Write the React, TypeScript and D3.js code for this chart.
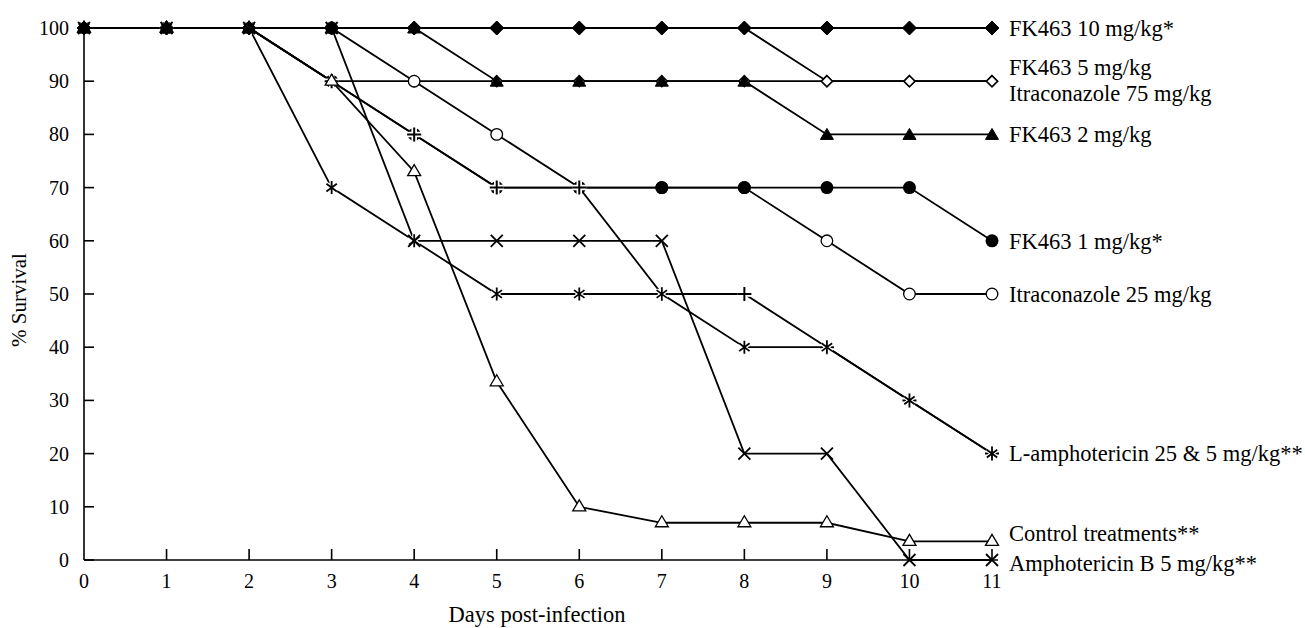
import React from "react";
import * as d3 from "d3";

const days = [0, 1, 2, 3, 4, 5, 6, 7, 8, 9, 10, 11];
const yTicks = [0, 10, 20, 30, 40, 50, 60, 70, 80, 90, 100];

const fk463_10 = [100, 100, 100, 100, 100, 100, 100, 100, 100, 100, 100, 100];
const fk463_5 = [100, 100, 100, 100, 100, 100, 100, 100, 100, 90, 90, 90];
const itra75 = [100, 100, 100, 90, 90, 90, 90, 90, 90, 90, 90, 90];
const fk463_2 = [100, 100, 100, 100, 100, 90, 90, 90, 90, 80, 80, 80];
const fk463_1 = [100, 100, 100, 90, 80, 70, 70, 70, 70, 70, 70, 60];
const itra25 = [100, 100, 100, 100, 90, 80, 70, 70, 70, 60, 50, 50];
const lamph25 = [100, 100, 100, 90, 80, 70, 70, 50, 50, 40, 30, 20];
const lamph5 = [100, 100, 100, 70, 60, 50, 50, 50, 40, 40, 30, 20];
const control = [100, 100, 100, 90, 73, 33.5, 10, 7, 7, 7, 3.5, 3.5];
const amphoB = [100, 100, 100, 100, 60, 60, 60, 60, 20, 20, 0, 0];

type Sym = "diamondFilled" | "diamondOpen" | "triFilled" | "triOpen" | "circleFilled" | "circleOpen" | "plus" | "star" | "cross";

const series: { name: string; values: number[]; sym: Sym }[] = [
  { name: "fk463_5", values: fk463_5, sym: "diamondOpen" },
  { name: "itra75", values: itra75, sym: "diamondOpen" },
  { name: "itra25", values: itra25, sym: "circleOpen" },
  { name: "fk463_1", values: fk463_1, sym: "circleFilled" },
  { name: "lamph25", values: lamph25, sym: "plus" },
  { name: "lamph5", values: lamph5, sym: "star" },
  { name: "amphoB", values: amphoB, sym: "cross" },
  { name: "control", values: control, sym: "triOpen" },
  { name: "fk463_10", values: fk463_10, sym: "diamondFilled" },
  { name: "fk463_2", values: fk463_2, sym: "triFilled" },
];

const labels: { lines: string[]; value: number; dy: number[] }[] = [
  { lines: ["FK463 10 mg/kg*"], value: 100, dy: [0] },
  { lines: ["FK463 5 mg/kg", "Itraconazole 75 mg/kg"], value: 90, dy: [-14, 12] },
  { lines: ["FK463 2 mg/kg"], value: 80, dy: [0] },
  { lines: ["FK463 1 mg/kg*"], value: 60, dy: [0] },
  { lines: ["Itraconazole 25 mg/kg"], value: 50, dy: [0] },
  { lines: ["L-amphotericin 25 & 5 mg/kg**"], value: 20, dy: [0] },
  { lines: ["Control treatments**"], value: 3.5, dy: [-8] },
  { lines: ["Amphotericin B 5 mg/kg**"], value: 0, dy: [3] },
];

const FONT = "'Liberation Serif', 'Times New Roman', serif";

function Marker({ sym, cx, cy }: { sym: Sym; cx: number; cy: number }) {
  const sw = 1.6;
  switch (sym) {
    case "diamondFilled": {
      const r = 7;
      return <path d={`M${cx},${cy - r}L${cx + r},${cy}L${cx},${cy + r}L${cx - r},${cy}Z`} fill="#000" stroke="#000" strokeWidth={1} />;
    }
    case "diamondOpen": {
      const r = 5.5;
      return <path d={`M${cx},${cy - r}L${cx + r},${cy}L${cx},${cy + r}L${cx - r},${cy}Z`} fill="#fff" stroke="#000" strokeWidth={sw} />;
    }
    case "triFilled": {
      const h = 6;
      return <path d={`M${cx},${cy - h}L${cx + 6.5},${cy + 5}L${cx - 6.5},${cy + 5}Z`} fill="#000" stroke="#000" strokeWidth={1} />;
    }
    case "triOpen": {
      return <path d={`M${cx},${cy - 7}L${cx + 6.5},${cy + 4}L${cx - 6.5},${cy + 4}Z`} fill="#fff" stroke="#000" strokeWidth={1.3} />;
    }
    case "circleFilled":
      return <circle cx={cx} cy={cy} r={6.5} fill="#000" />;
    case "circleOpen":
      return <circle cx={cx} cy={cy} r={5.8} fill="#fff" stroke="#000" strokeWidth={1.3} />;
    case "plus": {
      const r = 7;
      const d = `M${cx - r},${cy}H${cx + r}M${cx},${cy - r}V${cy + r}`;
      return (
        <g>
          <path d={d} stroke="#fff" strokeWidth={5.5} />
          <path d={d} stroke="#000" strokeWidth={2} />
        </g>
      );
    }
    case "star": {
      const r = 6.5;
      const a = r * 0.8;
      const d = `M${cx},${cy - r}V${cy + r}M${cx - a},${cy - a * 0.75}L${cx + a},${cy + a * 0.75}M${cx - a},${cy + a * 0.75}L${cx + a},${cy - a * 0.75}`;
      return (
        <g>
          <path d={d} stroke="#fff" strokeWidth={4} />
          <path d={d} stroke="#000" strokeWidth={1.8} />
        </g>
      );
    }
    case "cross": {
      const r = 6;
      const d = `M${cx - r},${cy - r}L${cx + r},${cy + r}M${cx - r},${cy + r}L${cx + r},${cy - r}`;
      return <path d={d} stroke="#000" strokeWidth={1.8} />;
    }
  }
  return null;
}

export default function App() {
  const W = 1305;
  const H = 628;
  const x = d3.scaleLinear().domain([0, 11]).range([84, 992]);
  const y = d3.scaleLinear().domain([0, 100]).range([560, 28]);
  const line = d3
    .line<number>()
    .x((_, i) => x(days[i]))
    .y((v) => y(v));

  return (
    <svg
      width={W}
      height={H}
      style={{ position: "absolute", left: 0, top: 0, background: "#fff" }}
      fontFamily={FONT}
    >
      <rect width={W} height={H} fill="#fff" />
      {/* axes */}
      <line x1={x(0)} x2={x(0)} y1={y(100)} y2={y(0)} stroke="#000" strokeWidth={1.6} />
      <line x1={x(0)} x2={x(11) + 6} y1={y(0)} y2={y(0)} stroke="#000" strokeWidth={1.6} />
      {yTicks.map((t) => (
        <g key={"yt" + t}>
          <line x1={x(0)} x2={x(0) + 10} y1={y(t)} y2={y(t)} stroke="#000" strokeWidth={1.6} />
          <text x={69} y={y(t)} dy="0.35em" textAnchor="end" fontSize={20} fill="#000">
            {t}
          </text>
        </g>
      ))}
      {days.map((d) => (
        <g key={"xt" + d}>
          {d > 0 && <line x1={x(d)} x2={x(d)} y1={y(0)} y2={y(0) - 11} stroke="#000" strokeWidth={1.6} />}
          <text x={x(d)} y={588} textAnchor="middle" fontSize={20} fill="#000">
            {d}
          </text>
        </g>
      ))}
      <text x={537} y={622} textAnchor="middle" fontSize={22.5} fill="#000">
        Days post-infection
      </text>
      <text transform="translate(26,300) rotate(-90)" textAnchor="middle" fontSize={21} fill="#000">
        % Survival
      </text>

      {/* lines */}
      {series.map((s) => (
        <path key={"l" + s.name} d={line(s.values) || ""} fill="none" stroke="#000" strokeWidth={1.8} />
      ))}
      {/* markers */}
      {series.map((s) => (
        <g key={"m" + s.name}>
          {s.values.map((v, i) => (
            <Marker key={i} sym={s.sym} cx={x(days[i])} cy={y(v)} />
          ))}
        </g>
      ))}

      {/* labels */}
      {labels.map((l, i) => (
        <g key={"lab" + i}>
          {l.lines.map((t, j) => (
            <text key={j} x={1009} y={y(l.value) + l.dy[j]} dy="0.35em" fontSize={22.5} fill="#000">
              {t}
            </text>
          ))}
        </g>
      ))}
    </svg>
  );
}
